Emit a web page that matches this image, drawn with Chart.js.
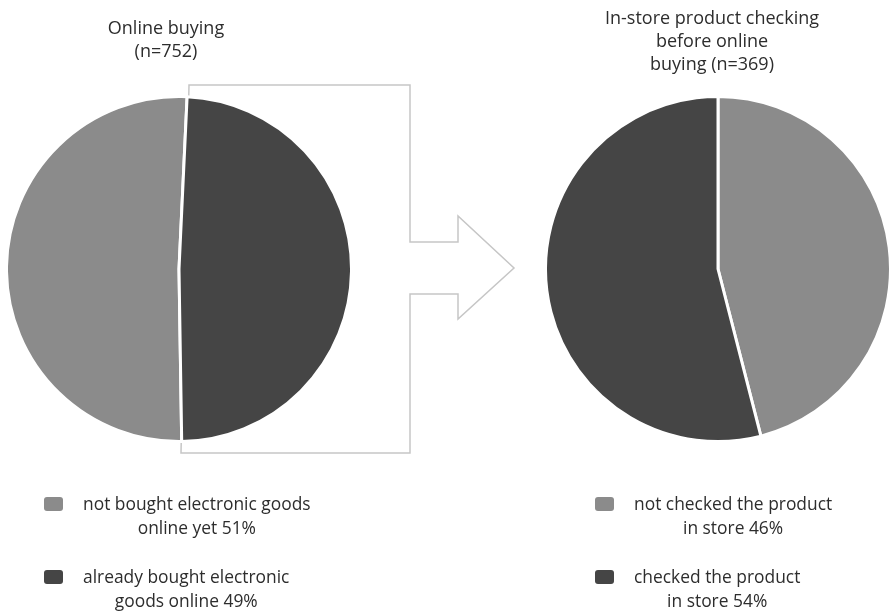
<!DOCTYPE html>
<html lang="en">
<head>
  <meta charset="UTF-8">
  <title>Online buying and in-store checking</title>
  <script src="https://cdn.jsdelivr.net/npm/chart.js"></script>
  <style>
    body { margin: 0; background: #fff; font-family: "Open Sans", sans-serif; color: #2d2d2d; }
    #wrap { position: relative; width: 890px; height: 612px; overflow: hidden; }
    #arrow { position: absolute; left: 0; top: 0; }
    .pie { position: absolute; top: 95px; }
    .title { position: absolute; text-align: center; font-size: 18px; line-height: 23px; white-space: nowrap; }
    .legend { position: absolute; font-size: 17.4px; line-height: 24px; }
    .item { position: relative; margin-bottom: 25px; white-space: nowrap; }
    .item .box { position: absolute; top: 6px; width: 19px; height: 14px; border-radius: 3px; }
    .item .txt { display: inline-block; text-align: center; }
  </style>
</head>
<body>
  <div id="wrap">
    <canvas id="arrow" width="890" height="612"></canvas>

    <div class="title" id="titleLeft" style="left:66px; top:16px; width:200px;"></div>
    <div class="title" id="titleRight" style="left:562px; top:6px; width:300px;"></div>

    <canvas class="pie" id="pieLeft" width="348" height="348" style="left:5px;"></canvas>
    <canvas class="pie" id="pieRight" width="348" height="348" style="left:544px;"></canvas>

    <div class="legend" id="legendLeft" style="left:44px; top:491px;"></div>
    <div class="legend" id="legendRight" style="left:595px; top:491px;"></div>
  </div>

  <script>
    const LIGHT = '#8b8b8b';
    const DARK = '#454545';

    // left pie: online buying
    const leftTitle = ['Online buying', '(n=752)'];
    const leftLabels = [['not bought electronic goods', 'online yet'], ['already bought electronic', 'goods online']];
    const leftValues = [51, 49];

    // right pie: in-store checking before buying online
    const rightTitle = ['In-store product checking', 'before online', 'buying (n=369)'];
    const rightLabels = [['not checked the product', 'in store'], ['checked the product', 'in store']];
    const rightValues = [46, 54];

    const colors = [LIGHT, DARK];

    function makePie(id, labels, values, rotation) {
      return new Chart(document.getElementById(id), {
        type: 'pie',
        data: {
          labels: labels,
          datasets: [{
            data: values,
            backgroundColor: colors,
            borderColor: '#fff',
            borderWidth: 3
          }]
        },
        options: {
          responsive: false,
          animation: false,
          rotation: rotation,
          layout: { padding: 0 },
          plugins: {
            legend: { display: false },
            tooltip: { enabled: false }
          }
        }
      });
    }

    function fillTitle(id, lines) {
      document.getElementById(id).innerHTML = lines.join('<br>');
    }

    function fillLegend(id, labels, values) {
      const el = document.getElementById(id);
      el.innerHTML = labels.map((lines, i) => {
        const text = lines.slice(0, -1).concat(lines[lines.length - 1] + ' ' + values[i] + '%');
        return `<div class="item"><span class="box" style="background:${colors[i]}"></span>` +
          `<span class="txt" style="margin-left:39px">${text.join('<br>')}</span></div>`;
      }).join('');
    }

    // outlined arrow running from the left pie towards the right one
    function drawArrow() {
      const c = document.getElementById('arrow').getContext('2d');
      c.strokeStyle = '#c6c6c6';
      c.lineWidth = 1.5;
      c.beginPath();
      c.moveTo(189, 85);
      c.lineTo(410, 85);
      c.lineTo(410, 242);
      c.lineTo(458, 242);
      c.lineTo(458, 216);
      c.lineTo(514, 268);
      c.lineTo(458, 319);
      c.lineTo(458, 294);
      c.lineTo(410, 294);
      c.lineTo(410, 453);
      c.lineTo(181, 453);
      c.closePath();
      c.stroke();
    }

    drawArrow();
    fillTitle('titleLeft', leftTitle);
    fillTitle('titleRight', rightTitle);
    makePie('pieLeft', leftLabels, leftValues, 179.1);
    makePie('pieRight', rightLabels, rightValues, 0);
    fillLegend('legendLeft', leftLabels, leftValues);
    fillLegend('legendRight', rightLabels, rightValues);
  </script>
</body>
</html>
